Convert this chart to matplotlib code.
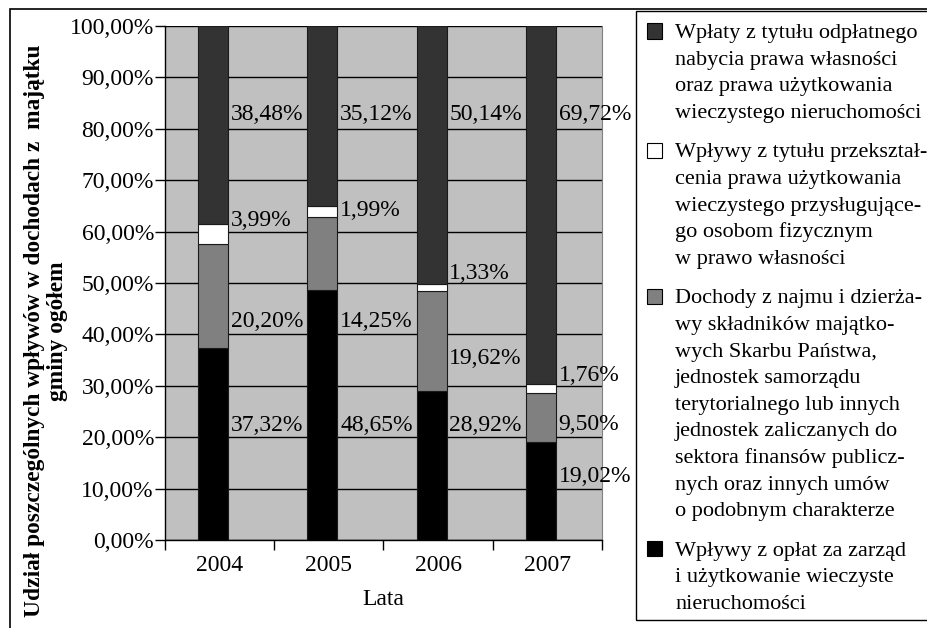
import numpy as np
import matplotlib
matplotlib.use('Agg')
import matplotlib.pyplot as plt
from matplotlib.patches import Rectangle

plt.rcParams['font.family'] = ['Liberation Serif', 'DejaVu Serif']

# lata i udziały poszczególnych wpływów (%)
lata = ['2004', '2005', '2006', '2007']
oplaty_zarzad = [37.32, 48.65, 28.92, 19.02]
najem_dzierzawa = [20.20, 14.25, 19.62, 9.50]
przeksztalcenie = [3.99, 1.99, 1.33, 1.76]
odplatne_nabycie = [38.48, 35.12, 50.14, 69.72]

serie = [
    (oplaty_zarzad, '#000000',
     'Wpływy z opłat za zarząd\ni użytkowanie wieczyste\nnieruchomości'),
    (najem_dzierzawa, '#808080',
     'Dochody z najmu i dzierża-\nwy składników majątko-\nwych Skarbu Państwa,\n'
     'jednostek samorządu\nterytorialnego lub innych\njednostek zaliczanych do\n'
     'sektora finansów publicz-\nnych oraz innych umów\no podobnym charakterze'),
    (przeksztalcenie, '#ffffff',
     'Wpływy z tytułu przekształ-\ncenia prawa użytkowania\nwieczystego przysługujące-\n'
     'go osobom fizycznym\nw prawo własności'),
    (odplatne_nabycie, '#333333',
     'Wpłaty z tytułu odpłatnego\nnabycia prawa własności\noraz prawa użytkowania\n'
     'wieczystego nieruchomości'),
]

# wysokości podpisów (w % osi) dla każdej serii i roku
poz_podpisow = [
    [22.3, 22.3, 22.3, 12.3],
    [42.5, 42.5, 35.4, 22.4],
    [62.1, 64.2, 51.9, 32.1],
    [82.8, 82.8, 82.8, 82.8],
]

W, H = 928, 628
fig = plt.figure(figsize=(W / 100, H / 100), dpi=100)
ax = fig.add_axes([165 / W, 1 - 540 / H, 437 / W, 514 / H])
ax.set_facecolor('#c0c0c0')
ax.set_axisbelow(True)

x = np.arange(len(lata))
xb = x - 0.06
szer = 0.275
dol = np.zeros(len(lata))
for (wart, kolor, opis), poz in zip(serie, poz_podpisow):
    ax.bar(xb, wart, szer, bottom=dol, color=kolor, edgecolor='#1a1a1a',
           linewidth=0.8, zorder=3)
    for xi, w, p in zip(xb, wart, poz):
        ax.annotate(f'{w:.2f}%'.replace('.', ','), (xi + szer / 2, p),
                    xytext=(2, 0), textcoords='offset points',
                    ha='left', va='center', fontsize=17, zorder=4,
                    annotation_clip=False)
    dol += np.array(wart)

ax.set_xlim(-0.5, 3.5)
ax.set_ylim(0, 100)
ax.set_yticks(np.arange(0, 101, 10))
ax.set_yticklabels([f'{v:.2f}%'.replace('.', ',') for v in range(0, 101, 10)],
                   fontsize=17)
ax.set_xticks(x)
ax.set_xticklabels(lata, fontsize=17)
ax.set_xticks(np.arange(-0.5, 4, 1), minor=True)
ax.tick_params(axis='x', which='major', length=0, pad=11)
ax.tick_params(axis='x', which='minor', length=7, width=1, direction='out')
ax.tick_params(axis='y', length=7, width=1, direction='out', pad=1)
ax.grid(axis='y', color='black', linewidth=1)

ax.spines['top'].set_visible(False)
ax.spines['right'].set_color('#808080')
ax.spines['left'].set_linewidth(1)
ax.spines['bottom'].set_linewidth(1)

ax.set_xlabel('Lata', fontsize=17, labelpad=9)
fig.text(0.0493, 1 - 331 / H,
         'Udział poszczególnych wpływów w dochodach z  majątku\ngminy ogółem',
         rotation=90, ha='center', va='center', fontsize=16.8,
         fontweight='bold', linespacing=1.1)

# legenda: ramka, kwadraty i opisy (od góry), każdy wiersz osobno
fig.patches.append(Rectangle((636 / W, 1 - 620 / H), 300 / W, 609 / H,
                             transform=fig.transFigure, fill=False,
                             edgecolor='black', linewidth=1))
wiersz = 26.6
y = 32.0
for wart, kolor, opis in serie[::-1]:
    fig.patches.append(Rectangle((647 / W, 1 - (y + 6.5) / H), 15 / W, 15 / H,
                                 transform=fig.transFigure, facecolor=kolor,
                                 edgecolor='black', linewidth=0.8))
    for linia in opis.split('\n'):
        fig.text(675 / W, 1 - (y + 6) / H, linia, ha='left', va='baseline',
                 fontsize=16)
        y += wiersz
    y += 13

# ramka wokół całego rysunku
fig.patches.append(Rectangle((10 / W, -0.1), 1.1, 1 - 9 / H + 0.1,
                             transform=fig.transFigure, fill=False,
                             edgecolor='black', linewidth=1.2))

fig.savefig('out.png', dpi=100)
